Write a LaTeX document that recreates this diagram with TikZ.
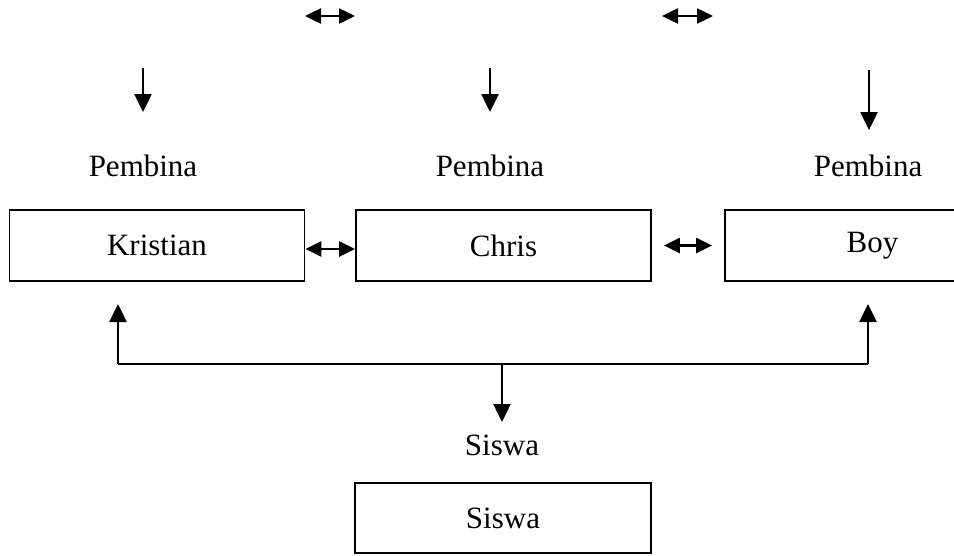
\documentclass[tikz,border=0pt]{standalone}
\usepackage{fontspec}
\setmainfont{Liberation Serif}
\usetikzlibrary{arrows.meta,calc}
\begin{document}
\begin{tikzpicture}[x=1pt,y=-1pt,
  box/.style={draw,line width=1.8pt,minimum width=295pt,minimum height=71pt,inner sep=0pt,font=\fontsize{31}{37}\selectfont},
  lbl/.style={inner sep=0pt,font=\fontsize{31}{37}\selectfont},
  arr/.style={line width=2.5pt,-{Triangle[length=18pt,width=17pt]}},
  darr/.style={line width=2.5pt,{Triangle[length=16pt,width=15pt]}-{Triangle[length=16pt,width=15pt]}},
  ln/.style={line width=2.2pt}]
\clip (0,0) rectangle (954,555);
\fill[white] (0,0) rectangle (954,555);
% boxes
\node[box] (kr) at (157,245.5) {Kristian};
\node[box] (ch) at (503.5,245.5) {Chris};
\node[box] (boy) at (872.5,245.5) {Boy};
\node[box,minimum height=70pt,minimum width=296pt] (sb) at (503,518) {Siswa};
% labels
\node[lbl] (p1) at (143,166) {Pembina};
\node[lbl] (p2) at (490,166) {Pembina};
\node[lbl] (p3) at (868,166) {Pembina};
\node[lbl] (sl) at (502,445) {Siswa};
% top double arrows
\coordinate (t1a) at (305,16); \coordinate (t1b) at (355,16);
\coordinate (t2a) at (662,16); \coordinate (t2b) at (713,16);
\draw[darr] (t1a) -- (t1b);
\draw[darr] (t2a) -- (t2b);
% down arrows
\coordinate (d1) at (143,68); \coordinate (d1e) at (143,112);
\coordinate (d2) at (490,68); \coordinate (d2e) at (490,112);
\coordinate (d3) at (869,70); \coordinate (d3e) at (869,130);
\draw[arr] (d1) -- (d1e);
\draw[arr] (d2) -- (d2e);
\draw[arr] (d3) -- (d3e);
% arrows between boxes
\draw[darr] (kr.east |- 0,249) -- (ch.west |- 0,249);
\draw[darr,shorten <=12pt,shorten >=12pt] (ch.east) -- (boy.west);
% bottom connector
\coordinate (bl) at (118,364);
\coordinate (br) at (868,364);
\coordinate (bm) at (502,364);
\coordinate (blt) at (118,304);
\coordinate (brt) at (868,304);
\coordinate (bme) at (502,422);
\draw[ln] (bl) -- (br);
\draw[arr] (bl) -- (blt);
\draw[arr] (br) -- (brt);
\draw[arr] (bm) -- (bme);
\end{tikzpicture}
\end{document}
